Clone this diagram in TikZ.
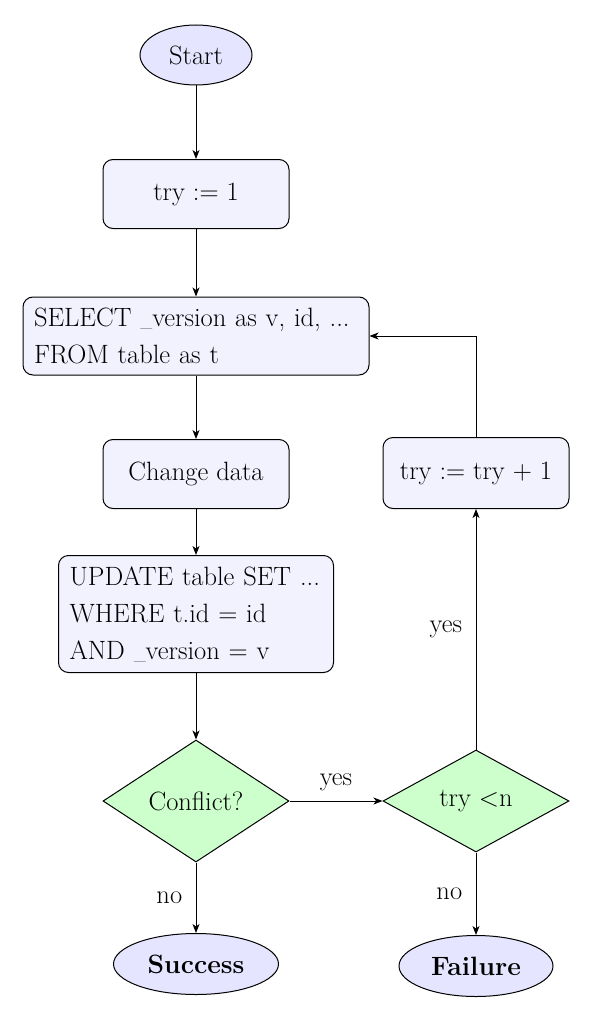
\documentclass[tikz,border=0pt]{standalone}
\usetikzlibrary{shapes.geometric,arrows.meta}
\newcommand{\usc}{\raisebox{0pt}{\resizebox{0.45em}{!}{\_}}}
\begin{document}
\begin{tikzpicture}[x=1pt,y=-1pt,
  font=\fontsize{26.5}{37}\selectfont,
  every node/.style={line width=1pt},
  startstop/.style={ellipse, draw, fill=blue!10, inner sep=0pt},
  procbox/.style={rectangle, rounded corners=10pt, draw, fill=blue!5},
  decision/.style={diamond, draw, fill=green!20, inner sep=0pt, aspect=1.5},
  arr/.style={line width=1pt, -{Stealth[length=9pt,width=7pt,inset=2.5pt]}},
  lbl/.style={font=\fontsize{26.5}{30}\selectfont}]
\useasboundingbox (0,0) rectangle (602,1030);

\node[startstop, minimum width=112, minimum height=60] (start) at (196,55) {Start};
\node[procbox, minimum width=186, minimum height=69] (try1) at (196,194) {try := 1};
\node[procbox, text width=324, inner xsep=11, inner ysep=4, minimum height=78, align=left] (select) at (196,336)
  {SELECT \usc version as v, id, ...\\FROM table as t};
\node[procbox, minimum width=186, minimum height=69] (change) at (196,474) {Change data};
\node[procbox, text width=253, inner xsep=11, inner ysep=4, minimum height=117, align=left] (update) at (196,614)
  {UPDATE table SET ...\\WHERE t.id = id\\AND \usc version = v};
\node[decision, minimum width=186, minimum height=122] (conflict) at (196,801) {Conflict?};
\node[decision, minimum width=186, minimum height=102] (tryn) at (476,801) {try \textless n};
\node[procbox, minimum width=186, minimum height=71] (tryinc) at (476,473) {try := try + 1};
\node[startstop, minimum width=165, minimum height=61] (success) at (196,964) {\bfseries Success};
\node[startstop, minimum width=154, minimum height=61] (failure) at (476,966) {\bfseries Failure};

\draw[arr] (start) -- (try1);
\draw[arr] (try1) -- (select);
\draw[arr] (select) -- (change);
\draw[arr] (change) -- (update);
\draw[arr] (update) -- (conflict);
\draw[arr] (conflict) -- node[lbl, midway, left=10pt] {no} (success);
\draw[arr] (conflict) -- node[lbl, midway, above=6pt] {yes} (tryn);
\draw[arr] (tryn) -- node[lbl, midway, left=10pt] {yes} (tryinc);
\draw[arr] (tryn) -- node[lbl, midway, left=10pt] {no} (failure);
\draw[arr] (tryinc.north) |- (select.east);
\end{tikzpicture}
\end{document}
